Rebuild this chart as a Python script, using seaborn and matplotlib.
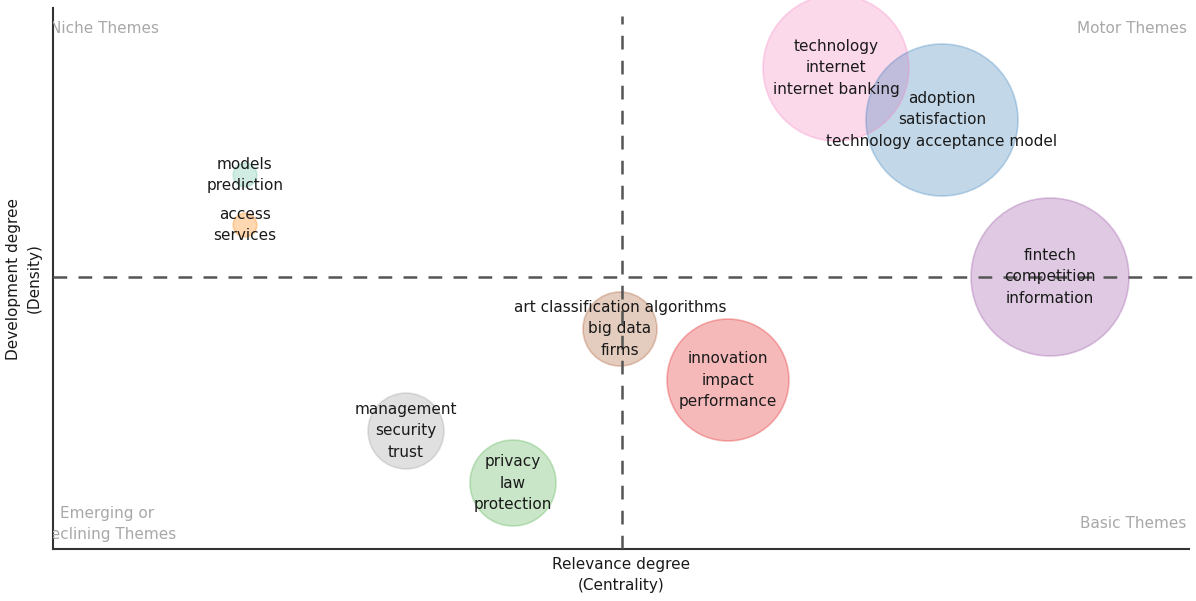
import numpy as np
import pandas as pd
import seaborn as sns
import matplotlib.pyplot as plt

# Data (thematic map clusters)

labels = [
    "technology\ninternet\ninternet banking",
    "adoption\nsatisfaction\ntechnology acceptance model",
    "fintech\ncompetition\ninformation",
    "innovation\nimpact\nperformance",
    "art classification algorithms\nbig data\nfirms",
    "management\nsecurity\ntrust",
    "privacy\nlaw\nprotection",
    "models\nprediction",
    "access\nservices",
]

centrality = [0.214, 0.320, 0.428, 0.106, -0.002, -0.216, -0.109, -0.377, -0.377]
density = [0.209, 0.157, 0.000, -0.103, -0.052, -0.154, -0.206, 0.102, 0.052]
frequency = [533, 578, 624, 372, 137, 144, 185, 14, 14]

set1 = sns.color_palette("Set1", 9)
set2 = sns.color_palette("Set2", 8)
colors = [set1[7], set1[1], set1[3], set1[0], set1[6], set1[8], set1[2], set2[0], set1[4]]

quadrants = ["Niche Themes", "Motor Themes", "Emerging or\nDeclining Themes", "Basic Themes"]

df = pd.DataFrame({
    "label": labels,
    "centrality": centrality,
    "density": density,
    "freq": frequency,
})

# Plot

sns.set_theme(style="white")
plt.rcParams["font.family"] = ["DejaVu Sans"]

fig = plt.figure(figsize=(11.96, 6.01), dpi=100)
ax = fig.add_axes([53 / 1196, 1 - 549 / 601, (1189 - 53) / 1196, (549 - 8) / 601])

ax.set_xlim(-0.569, 0.567)
ax.set_ylim(-0.272, 0.269)

# marker area in pt^2 proportional to frequency
px = 72 / 100
scale = (2 * px) ** 2 * 10
max_f = max(frequency)

sns.scatterplot(
    data=df, x="centrality", y="density",
    hue="label", palette=colors,
    size="freq", sizes=(0, max_f * scale), size_norm=(0, max_f),
    alpha=0.3, edgecolor="none", legend=False, ax=ax, clip_on=False,
)
# faint outlines
sns.scatterplot(
    data=df, x="centrality", y="density",
    size="freq", sizes=(0, max_f * scale), size_norm=(0, max_f),
    facecolor="none", edgecolor=[(*c, 0.3) for c in colors], linewidth=1.2,
    legend=False, ax=ax, clip_on=False,
)

fs = 11
for lab, x, y in zip(labels, centrality, density):
    ax.text(x, y, lab, ha="center", va="center", fontsize=fs,
            color="#1a1a1a", linespacing=1.52, zorder=5)

ax.axvline(0, ymax=0.985, color="#555555", lw=1.8, ls=(0, (5.5, 4.5)), zorder=4)
ax.axhline(0, xmax=1.01, color="#555555", lw=1.8, ls=(0, (5.5, 4.5)), zorder=4, clip_on=False)

qcol = "#a8a8a8"
ax.text(-0.003, 0.963, quadrants[0], transform=ax.transAxes, ha="left", va="center",
        fontsize=fs, color=qcol, clip_on=True)
ax.text(0.998, 0.963, quadrants[1], transform=ax.transAxes, ha="right", va="center",
        fontsize=fs, color=qcol)
ax.text(0.048, 0.046, quadrants[2], transform=ax.transAxes, ha="center", va="center",
        fontsize=fs, color=qcol, linespacing=1.5, clip_on=True)
ax.text(0.998, 0.048, quadrants[3], transform=ax.transAxes, ha="right", va="center",
        fontsize=fs, color=qcol)

ax.set_xlabel("Relevance degree\n(Centrality)", fontsize=fs, color="#1a1a1a", labelpad=6,
              linespacing=1.45)
ax.set_ylabel("Development degree\n(Density)", fontsize=fs, color="#1a1a1a", labelpad=8,
              linespacing=1.45)
ax.set_xticks([])
ax.set_yticks([])

sns.despine(ax=ax)
for s in ["left", "bottom"]:
    ax.spines[s].set_color("#333333")
    ax.spines[s].set_linewidth(1.5)

fig.savefig("out.png", dpi=100)
